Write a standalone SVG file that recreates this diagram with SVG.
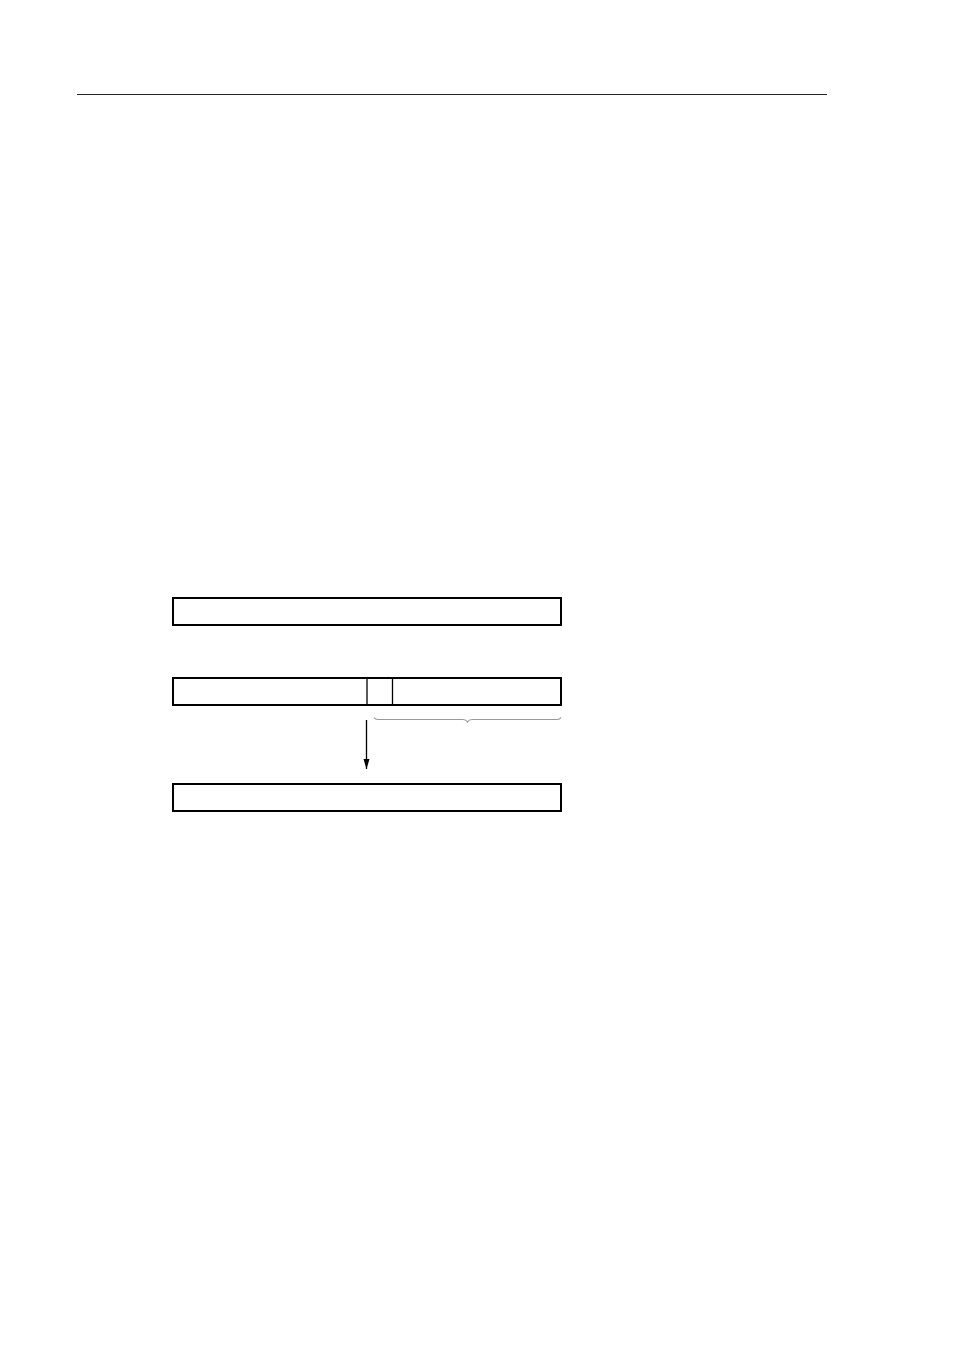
<svg xmlns="http://www.w3.org/2000/svg" width="954" height="1351" viewBox="0 0 954 1351">
<defs>
<style>
.box{fill:#fff;stroke:#000;stroke-width:2}
.div{stroke:#000;stroke-width:1.3;fill:none}
.conn{stroke:#000;stroke-width:1.3;fill:none}
.brace{stroke:#999;stroke-width:1.2;fill:none}
</style>
<marker id="ah" markerWidth="10" markerHeight="8" refX="10" refY="4" orient="auto" markerUnits="userSpaceOnUse" viewBox="0 0 10 8">
<path d="M0,1 L10,4 L0,7 Z" fill="#000"/>
</marker>
</defs>
<rect width="954" height="1351" fill="#fff"/>
<line x1="77" y1="94.5" x2="827" y2="94.5" stroke="#222" stroke-width="1"/>
<g id="node-top">
<rect class="box" x="173" y="598" width="388" height="27"/>
</g>
<g id="node-middle">
<rect class="box" x="173" y="678" width="388" height="27"/>
<line class="div" x1="367" y1="678" x2="367" y2="705"/>
<line class="div" x1="392.5" y1="678" x2="392.5" y2="705"/>
</g>
<g id="node-bottom">
<rect class="box" x="173" y="784" width="388" height="27"/>
</g>
<g id="connectors">
<line class="conn" x1="366.5" y1="720" x2="366.5" y2="769" marker-end="url(#ah)"/>
<path class="brace" d="M374,717.5 Q375,719.5 378,719.5 L463,719.5 Q466,719.5 467.5,722 Q469,719.5 472,719.5 L557,719.5 Q560,719.5 561,717.5"/>
</g>
</svg>
